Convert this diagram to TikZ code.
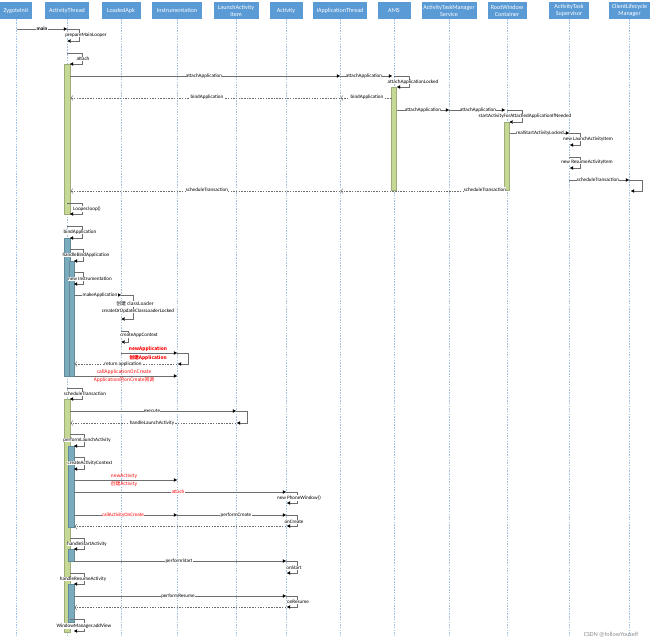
\documentclass[tikz,border=0pt]{standalone}
\usepackage{fontspec}
\setmainfont{Carlito}
\newfontfamily\cjk{Noto Sans CJK SC}
\usetikzlibrary{arrows.meta}
\definecolor{hdrblue}{RGB}{91,155,213}
\definecolor{lifeblue}{RGB}{160,195,228}
\definecolor{bargreen}{RGB}{198,216,150}
\definecolor{barteal}{RGB}{122,172,190}
\definecolor{msgline}{RGB}{110,110,110}
\begin{document}
\begin{tikzpicture}[x=1pt,y=-1pt,
  hdr/.style={fill=hdrblue,text=white,font=\fontsize{6.1}{6.8}\selectfont,align=center,inner sep=0pt,anchor=north,minimum height=17pt},
  life/.style={draw=lifeblue,line width=0.45pt,dash pattern=on 1.5pt off 1.2pt},
  msg/.style={draw=msgline,line width=0.45pt,-{Triangle[length=3.2pt,width=3.4pt,color=black]}},
  ret/.style={draw=msgline,line width=0.45pt,dash pattern=on 1.5pt off 1.2pt,-{Straight Barb[length=2.2pt,width=5pt,color=msgline]}},
  lbl/.style={font=\fontsize{5.1}{5.5}\selectfont,fill=white,inner sep=0.3pt},
  rlbl/.style={font=\cjk\fontsize{4.8}{5.2}\selectfont,text=red,inner sep=0.3pt},
  clbl/.style={font=\cjk\fontsize{4.8}{5.2}\selectfont,fill=white,inner sep=0.3pt},
  gbar/.style={fill=bargreen,draw=bargreen!80!black,line width=0.2pt},
  tbar/.style={fill=barteal,draw=barteal!80!black,line width=0.2pt}
]
\useasboundingbox (0,0) rectangle (650,642);
% headers
\node[hdr,minimum width=32pt] (zyg) at (16,2) {ZygoteInit};
\node[hdr,minimum width=44pt] (at) at (67,2) {ActivityThread};
\node[hdr,minimum width=39pt] (la) at (121,2) {LoadedApk};
\node[hdr,minimum width=50pt] (ins) at (177,2) {Instrumentation};
\node[hdr,minimum width=45pt] (lai) at (236,2) {LaunchActivity\\Item};
\node[hdr,minimum width=33pt] (act) at (286,2) {Activity};
\node[hdr,minimum width=54pt] (iat) at (340,2) {IApplicationThread};
\node[hdr,minimum width=33pt] (ams) at (394,2) {AMS};
\node[hdr,minimum width=55pt] (atms) at (449,2) {ActivityTaskManager\\Service};
\node[hdr,minimum width=39pt] (rwc) at (507,2) {RootWindow\\Container};
\node[hdr,minimum width=40pt] (ats) at (569,2) {ActivityTask\\Supervisor};
\node[hdr,minimum width=41pt] (clm) at (629.5,2) {ClientLifecycle\\Manager};
% lifelines
\foreach \n in {zyg,at,la,ins,lai,act,iat,ams,atms,rwc,ats,clm}
  \draw[life] (\n.south) -- (\n.south |- 0,636);
% activation bars
\fill[gbar] (64,64) rectangle (70,214);
\fill[gbar] (391.5,87) rectangle (396.5,190);
\fill[gbar] (504.5,122) rectangle (509.5,190);
\fill[tbar] (64,238) rectangle (70,376);
\fill[tbar] (69,261) rectangle (74,376);
\fill[gbar] (64,399) rectangle (70,632);
\fill[tbar] (68.5,446) rectangle (74,527);
\fill[tbar] (68.5,549) rectangle (74,561);
\fill[tbar] (68.5,584) rectangle (74,622);
% ---- top part
\draw[msg] (17,29) -- (67,29);
\node[lbl,font=\bfseries\fontsize{5.2}{5.5}\selectfont] at (42,28.5) {main};
\draw[msg] (67,29) -- (79,29) -- (79,41) -- (67.5,41);
\node[lbl] at (86,35) {prepareMainLooper};
\draw[msg] (67,53) -- (82,53) -- (82,64) -- (70,64);
\node[lbl] at (83,59) {attach};
\draw[msg] (70,76) -- (340,76);
\node[lbl] at (204,76) {attachApplication};
\draw[msg] (340,76) -- (392,76);
\node[lbl] at (364,76) {attachApplication};
\draw[msg] (394,76) -- (409,76) -- (409,87) -- (397,87);
\node[lbl] at (413,82) {attachApplicationLocked};
\draw[ret] (391.5,98) -- (340.5,98);
\node[lbl] at (367,97) {bindApplication};
\draw[ret] (340,98) -- (70.5,98);
\node[lbl] at (207,97) {bindApplication};
\draw[msg] (396.5,110) -- (449,110);
\node[lbl] at (423,110) {attachApplication};
\draw[msg] (449,110) -- (505,110);
\node[lbl] at (478,110) {attachApplication};
\draw[msg] (507,110) -- (522,110) -- (522,122) -- (509.5,122);
\node[lbl] at (525,116) {startActivityForAttachedApplicationIfNeeded};
\draw[msg] (509.5,133) -- (569,133);
\node[lbl] at (540,133) {realStartActivityLocked};
\draw[msg] (569,133) -- (580,133) -- (580,145) -- (570,145);
\node[lbl] at (588,139) {new LaunchActivityItem};
\draw[msg] (569,157) -- (580,157) -- (580,168) -- (570,168);
\node[lbl] at (587,162) {new ResumeActivityItem};
\draw[msg] (569,180) -- (629,180);
\node[lbl] at (598,180) {scheduleTransaction};
\draw[msg] (629,180) -- (642,180) -- (642,191) -- (631,191);
\draw[ret] (504.5,191) -- (340.5,191);
\node[lbl] at (485,189.5) {scheduleTransaction};
\draw[ret] (340,191) -- (70.5,191);
\node[lbl] at (207,189.5) {scheduleTransaction};
\draw[msg] (67,203) -- (82,203) -- (82,214) -- (70,214);
\node[lbl] at (87,209) {Looper.loop()};
% ---- bindApplication
\draw[msg] (67,226) -- (82,226) -- (82,238) -- (70,238);
\node[lbl] at (80,232) {bindApplication};
\draw[msg] (70,249) -- (83,249) -- (83,261) -- (74,261);
\node[lbl] at (86,255) {handleBindApplication};
\draw[msg] (74,272) -- (83,272) -- (83,284) -- (74,284);
\node[lbl] at (90,279) {new Instrumentation};
\draw[msg] (74,295) -- (121,295);
\node[lbl] at (100,295) {makeApplication};
\draw[msg] (121,295) -- (133,295) -- (133,319) -- (121.5,319);
\node[clbl] at (135,304) {创建 classLoader};
\node[lbl] at (138,311) {createOrUpdateClassLoaderLocked};
\draw[msg] (121,331) -- (128,331) -- (128,342) -- (121.5,342);
\node[lbl] at (139,335.5) {createAppContext};
\draw[msg] (121,353) -- (177,353);
\node[rlbl,font=\cjk\bfseries\fontsize{4.8}{5.2}\selectfont] at (148,349) {newApplication};
\node[rlbl,font=\cjk\bfseries\fontsize{4.8}{5.2}\selectfont] at (148,357.5) {创建Application};
\draw[msg] (177,353) -- (188,353) -- (188,364) -- (178,364);
\draw[ret] (177,364) -- (74.5,364);
\node[lbl] at (123,364) {return application};
\draw[msg] (74,376) -- (177,376);
\node[rlbl] at (124,372) {callApplicationOnCreate};
\node[rlbl] at (124,380.5) {Application的onCreate回调};
% ---- launch
\draw[msg] (67,388) -- (82,388) -- (82,399) -- (70,399);
\node[lbl] at (85,394) {scheduleTransaction};
\draw[msg] (70,411) -- (236,411);
\node[lbl] at (152,411) {execute};
\draw[msg] (236,411) -- (247,411) -- (247,423) -- (237,423);
\draw[ret] (236,423) -- (70.5,423);
\node[lbl] at (152,423) {handleLaunchActivity};
\draw[msg] (70,434) -- (84,434) -- (84,446) -- (74,446);
\node[lbl] at (87,440) {performLaunchActivity};
\draw[msg] (74,457) -- (84,457) -- (84,469) -- (74,469);
\node[lbl] at (90,463) {createActivityContext};
\draw[msg] (74,480) -- (177,480);
\node[rlbl] at (124,476.5) {newActivity};
\node[rlbl] at (124,484) {创建Activity};
\draw[msg] (74,492) -- (286,492);
\node[lbl,text=red] at (178,492) {attach};
\draw[msg] (286,492) -- (297,492) -- (297,503) -- (287,503);
\node[lbl] at (299,498) {new PhoneWindow()};
\draw[msg] (74,515) -- (177,515);
\node[lbl,text=red] at (123,515) {callActivityOnCreate};
\draw[msg] (177,515) -- (286,515);
\node[lbl] at (236,515) {performCreate};
\draw[msg] (286,515) -- (297,515) -- (297,526) -- (287,526);
\node[lbl] at (294,522) {onCreate};
\draw[ret] (286,526.5) -- (74.5,526.5);
\draw[msg] (70,538) -- (84,538) -- (84,549) -- (74,549);
\node[lbl] at (87,544) {handleStartActivity};
\draw[msg] (74,561) -- (286,561);
\node[lbl] at (179,561) {performStart};
\draw[msg] (286,561) -- (297,561) -- (297,573) -- (287,573);
\node[lbl] at (294,568) {onStart};
\draw[msg] (70,573) -- (84,573) -- (84,584) -- (74,584);
\node[lbl] at (83,579) {handleResumeActivity};
\draw[msg] (74,596) -- (286,596);
\node[lbl] at (178,596) {performResume};
\draw[msg] (286,596) -- (297,596) -- (297,607) -- (287,607);
\node[lbl] at (298,602) {onResume};
\draw[ret] (286,607.5) -- (74.5,607.5);
\draw[msg] (70,619) -- (84,619) -- (84,631) -- (74,631);
\node[lbl] at (84,626) {WindowManager.addView};
% watermark
\node[font=\fontsize{6.2}{6.5}\selectfont,text=black!45] (wm) at (611,635) {CSDN @followYouself};
\end{tikzpicture}
\end{document}
